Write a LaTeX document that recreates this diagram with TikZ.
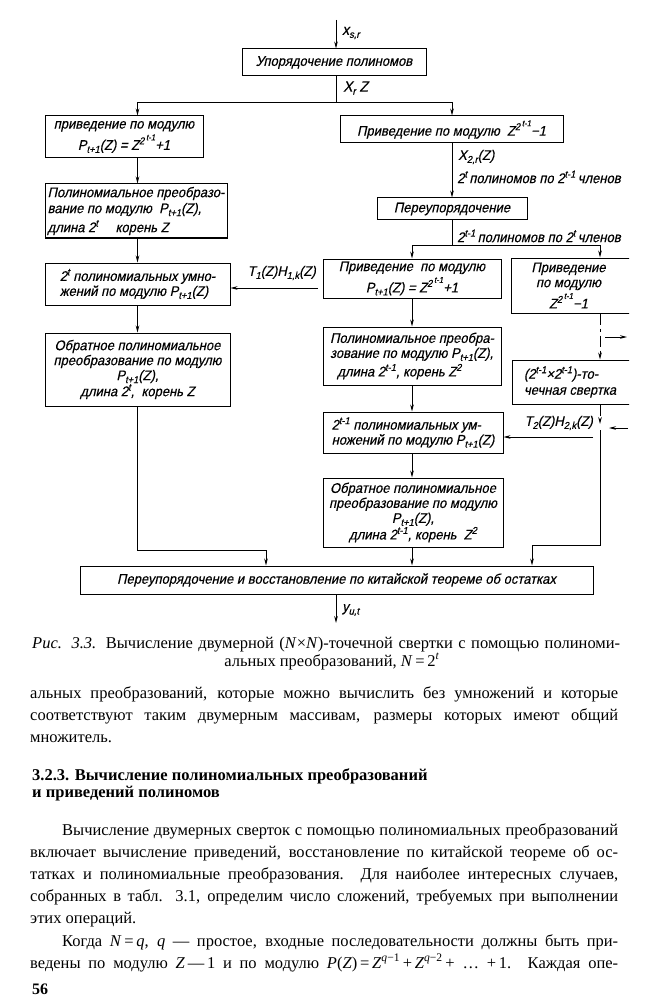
\documentclass[tikz,border=0pt]{standalone}
\usepackage{fontspec}
\setmainfont{Liberation Serif}
\newfontfamily\gostfam[FakeSlant=0.22,FakeStretch=0.93,FakeBold=0.4]{Liberation Sans}
\usetikzlibrary{arrows.meta}
\newcommand\Up[1]{\raisebox{5.5pt}{\fontsize{10}{10}\selectfont #1}}
\newcommand\UUp[1]{\,\raisebox{4pt}{\fontsize{8.5}{8.5}\selectfont #1}}
\newcommand\Dn[1]{\raisebox{-3pt}{\fontsize{10}{10}\selectfont #1}}
\newcommand\jl[2]{\makebox[#1][s]{#2}}
\newcommand\ti[1]{\textit{#1}}
\begin{document}
\begin{tikzpicture}[x=1pt,y=-1pt,
  box/.style={draw, line width=1pt, inner sep=1pt, font=\gostfam\fontsize{14}{15}\selectfont, align=center},
  lbl/.style={inner sep=0pt, font=\gostfam\fontsize{14}{15}\selectfont},
  flow/.style={line width=1pt, -{Stealth[length=7pt,width=3.6pt]}},
  conn/.style={line width=1pt},
  dconn/.style={line width=1pt, dash pattern=on 11pt off 4pt on 3pt off 4pt},
  body/.style={anchor=base west, inner sep=0pt, font=\fontsize{16.5}{20}\selectfont},
  head/.style={anchor=base west, inner sep=0pt, font=\bfseries\fontsize{16.5}{18}\selectfont}]
\path[use as bounding box] (0,0) rectangle (648,1000);
\clip (0,0) rectangle (629,1000);
% spine coordinates
\coordinate (main) at (336,0);
\coordinate (cL) at (137.5,0);
\coordinate (cR) at (452,0);
\coordinate (cR3) at (412,0);
\coordinate (cRp) at (600,0);
% boxes
\node[box, minimum width=184pt, minimum height=27pt] (b1) at (334,62.5) {Упорядочение полиномов};
\node[box, minimum width=158pt, minimum height=42pt] (L1) at (124,137) {приведение по модулю\\[2pt]P\Dn{t+1}(Z) = Z\Up{2\UUp{t-1}}+1};
\node[box, minimum width=182pt, minimum height=54pt, align=left] (L2) at (136,211) {Полиномиальное преобразо-\\[1pt]вание по модулю\ \ P\Dn{t+1}(Z),\\[3pt]длина 2\Up{t}\quad\ корень Z};
\node[box, minimum width=185pt, minimum height=42pt, align=left] (L3) at (137.5,284) {2\Up{t} полиномиальных умно-\\жений по модулю P\Dn{t+1}(Z)};
\node[box, minimum width=185pt, minimum height=73pt] (L4) at (137.5,369.5) {Обратное полиномиальное\\преобразование по модулю\\P\Dn{t+1}(Z),\\длина 2\Up{t},\ \ корень Z};
\node[box, minimum width=223pt, minimum height=27pt] (R1) at (451.5,129.5) {Приведение по модулю\ \ Z\Up{2\UUp{t-1}}−1};
\node[box, minimum width=150pt, minimum height=22pt] (R2) at (452,209) {Переупорядочение};
\node[box, minimum width=178pt, minimum height=39pt] (R3) at (412,278.5) {Приведение\ \ по модулю\\[2pt]P\Dn{t+1}(Z) = Z\Up{2\UUp{t-1}}+1};
\node[box, minimum width=178pt, minimum height=58pt, align=left] (R4) at (412,356) {Полиномиальное преобра-\\зование по модулю P\Dn{t+1}(Z),\\[2pt]\ \ длина 2\Up{t-1}, корень Z\Up{2}};
\node[box, minimum width=180pt, minimum height=41pt, align=left] (R5) at (413,432.5) {2\Up{t-1} полиномиальных ум-\\ножений по модулю P\Dn{t+1}(Z)};
\node[box, minimum width=180pt, minimum height=69pt] (R6) at (413,512.5) {Обратное полиномиальное\\преобразование по модулю\\P\Dn{t+1}(Z),\\длина 2\Up{t-1}, корень\ \ Z\Up{2}};
\node[box, minimum width=123pt, minimum height=55pt] (R3p) at (572.5,285.5) {\hspace*{-8pt}Приведение\\\hspace*{-8pt}по модулю\\[2pt]\hspace*{-8pt}Z\Up{2\UUp{t-1}}−1};
\node[box, minimum width=122pt, minimum height=44pt, align=left] (R4p) at (573,382) {(2\Up{t-1}×2\Up{t-1})-то-\\[1pt]чечная свертка\hspace*{6pt}};
\node[box, minimum width=513pt, minimum height=28pt] (CRT) at (336.5,580) {Переупорядочение и восстановление по китайской теореме об остатках};
% connectors
\coordinate (in) at (336,20);
\coordinate (split) at (336,103);
\coordinate (split2) at (452,245);
\coordinate (jL) at (266,550);
\coordinate (jR) at (532,545);
\coordinate (dR) at (600,424);
\coordinate (sR) at (600,430);
\coordinate (out) at (336,623);
\coordinate (t1s) at (318,288);
\coordinate (t2s) at (593,437);
\coordinate (a1s) at (605,337);
\coordinate (a1e) at (627,337);
\coordinate (a2s) at (628,428);
\coordinate (a2e) at (609,428);
\draw[flow] (in) -- (b1.north -| main);
\draw[conn] (b1.south -| main) -- (split);
\draw[flow] (split) -| (L1.north -| cL);
\draw[flow] (split) -| (R1.north -| cR);
\draw[flow] (L1.south -| cL) -- (L2.north -| cL);
\draw[flow] (L2.south -| cL) -- (L3.north -| cL);
\draw[flow] (L3.south -| cL) -- (L4.north -| cL);
\draw[flow] (L4.south -| cL) |- (jL) -- (jL |- CRT.north);
\draw[flow] (R1.south -| cR) -- (R2.north -| cR);
\draw[conn] (R2.south -| cR) -- (split2);
\draw[flow] (split2) -| (R3.north -| cR3);
\draw[flow] (split2) -| (R3p.north -| cRp);
\draw[flow] (R3.south -| cR3) -- (R4.north -| cR3);
\draw[flow] (R4.south -| cR3) -- (R5.north -| cR3);
\draw[flow] (R5.south -| cR3) -- (R6.north -| cR3);
\draw[flow] (R6.south -| cR3) -- (CRT.north -| cR3);
\draw[flow, dconn] (R3p.south -| cRp) -- (R4p.north -| cRp);
\draw[flow, dconn] (R4p.south -| cRp) -- (dR);
\draw[flow] (sR) |- (jR) -- (jR |- CRT.north);
\draw[flow] (t1s) -- (L3.east |- t1s);
\draw[flow] (t2s) -- (R5.east |- t2s);
\draw[flow] (a1s) -- (a1e);
\draw[flow] (a2s) -- (a2e);
\draw[flow] (CRT.south -| main) -- (out);
% labels
\node[lbl, anchor=west] (lxs) at (342,33) {\fontsize{15}{15}\selectfont x\Dn{s,r}};
\node[lbl, anchor=west] (lxr) at (343,88) {\fontsize{15}{15}\selectfont X\Dn{r} Z};
\node[lbl, anchor=west] (lx2) at (458,157) {X\Dn{2,r}(Z)};
\node[lbl, anchor=west] (lp1) at (457,177) {2\Up{t}\,полиномов по 2\Up{t-1}\,членов};
\node[lbl, anchor=west] (lp2) at (457,236) {2\Up{t-1}\,полиномов по 2\Up{t}\,членов};
\node[lbl, anchor=east] (lt1) at (316,273) {T\Dn{1}(Z)H\Dn{1,k}(Z)};
\node[lbl, anchor=east] (lt2) at (593,423) {T\Dn{2}(Z)H\Dn{2,k}(Z)};
\node[lbl, anchor=west] (ly) at (342,610) {y\Dn{u,t}};
% caption
\node[body, font=\fontsize{16.5}{18}\selectfont] (cap1) at (32,648) {\jl{588pt}{\ti{Рис. 3.3.} Вычисление двумерной (\ti{N}×\ti{N})-точечной свертки с помощью полиноми-}};
\node[body, font=\fontsize{16.5}{18}\selectfont, anchor=base] (cap2) at (332,666) {альных преобразований, \ti{N}\,=\,2\textsuperscript{\ti{t}}};
% body text
\node[body] (t1) at (30,698) {\jl{588pt}{альных преобразований, которые можно вычислить без умножений и которые}};
\node[body] (t2) at (30,720) {\jl{588pt}{соответствуют таким двумерным массивам, размеры которых имеют общий}};
\node[body] (t3) at (30,742) {множитель.};
\node[head] (h1) at (32,780) {3.2.3. Вычисление полиномиальных преобразований};
\node[head] (h2) at (32,797) {и приведений полиномов};
\node[body] (p1) at (62,835) {\jl{556pt}{Вычисление двумерных сверток с помощью полиномиальных преобразований}};
\node[body] (p2) at (30,857) {\jl{588pt}{включает вычисление приведений, восстановление по китайской теореме об ос-}};
\node[body] (p3) at (30,879) {\jl{588pt}{татках и полиномиальные преобразования. Для наиболее интересных случаев,}};
\node[body] (p4) at (30,901) {\jl{588pt}{собранных в табл. 3.1, определим число сложений, требуемых при выполнении}};
\node[body] (p5) at (30,923) {этих операций.};
\node[body] (p6) at (62,946) {\jl{556pt}{Когда \ti{N}\,=\,\ti{q}, \ti{q} — простое, входные последовательности должны быть при-}};
\node[body] (p7) at (30,968) {\jl{588pt}{ведены по модулю \ti{Z}\,—\,1 и по модулю \ti{P}(\ti{Z})\,=\,\ti{Z}\textsuperscript{\ti{q}−1}\,+\,\ti{Z}\textsuperscript{\ti{q}−2}\,+ … +\,1. Каждая опе-}};
\node[body, font=\bfseries\fontsize{16}{18}\selectfont] (pg) at (32,994) {56};
\end{tikzpicture}
\end{document}
